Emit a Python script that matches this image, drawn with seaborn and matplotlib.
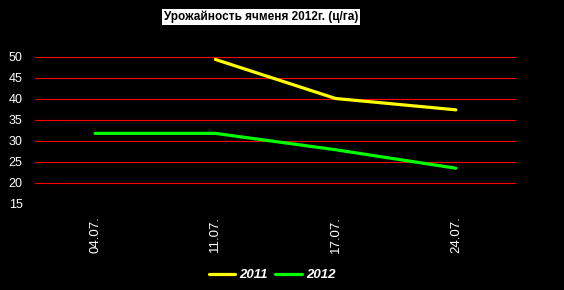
import matplotlib
matplotlib.use("Agg")
import matplotlib.pyplot as plt
import seaborn as sns
import pandas as pd
import numpy as np

dates = ["04.07.", "11.07.", "17.07.", "24.07."]
y2011 = [np.nan, 49.3, 40.0, 37.3]
y2012 = [31.7, 31.7, 27.8, 23.4]
series_names = ["2011", "2012"]
colors = ["#FFFF00", "#00FF00"]
yticks = [15, 20, 25, 30, 35, 40, 45, 50]

sns.set_theme(style="dark")
plt.rcParams['font.family'] = ['Liberation Sans', 'DejaVu Sans']

df = pd.DataFrame({
    "date": dates * 2,
    "pos": list(range(len(dates))) * 2,
    "value": y2011 + y2012,
    "series": [series_names[0]] * 4 + [series_names[1]] * 4,
}).dropna()

fig = plt.figure(figsize=(5.64, 2.9), dpi=100, facecolor="black")
ax = fig.add_axes([35/564, 1 - 203.5/290, (516-35)/564, 147/290])
ax.set_facecolor("black")

sns.lineplot(data=df, x="pos", y="value", hue="series", palette=colors,
             linewidth=2.3, ax=ax, legend=False, sort=True)

ax.set_xlim(-0.5, len(dates) - 0.5)
ax.set_ylim(15, 50)
ax.set_yticks(yticks)
ax.set_yticklabels([str(v) for v in yticks], color="white", fontsize=9)
ax.set_xticks(range(len(dates)))
ax.set_xticklabels(dates, rotation=90, color="white", fontsize=9.5, va="top")
ax.tick_params(axis="both", length=0)
ax.tick_params(axis="x", pad=9)
ax.tick_params(axis="y", pad=9)
ax.set_xlabel("")
ax.set_ylabel("")
for s in ax.spines.values():
    s.set_visible(False)
ax.grid(False)
for v in yticks[1:]:
    ax.axhline(v, color="#FF0000", linewidth=0.8, zorder=0, snap=True)

from matplotlib.lines import Line2D
handles = [Line2D([0], [0], color=c, linewidth=2.3) for c in colors]
leg = fig.legend(handles, series_names, loc="center", bbox_to_anchor=(272/564, 1 - 275/290),
                 ncol=2, frameon=False, handlelength=2.0, handletextpad=0.3, columnspacing=0.6,
                 prop={"weight": "bold", "style": "italic", "size": 9.5})
for t in leg.get_texts():
    t.set_color("white")

fig.text(261/564, 1 - 17/290, "Урожайность ячменя 2012г. (ц/га)", ha="center", va="center",
         fontsize=8.5, fontweight="bold", color="black",
         bbox=dict(facecolor="white", edgecolor="none", pad=1.5))

fig.savefig("out.png", dpi=100, facecolor="black")
